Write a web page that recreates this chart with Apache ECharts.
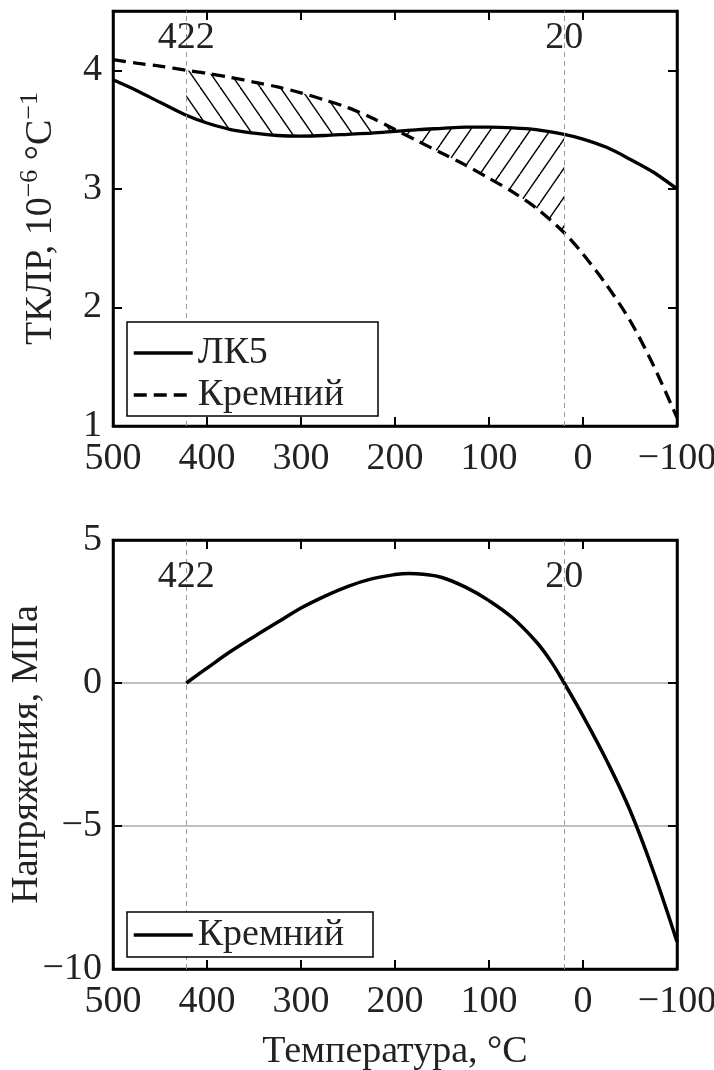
<!DOCTYPE html>
<html><head><meta charset="utf-8">
<script src="https://cdn.jsdelivr.net/npm/echarts@6/dist/echarts.min.js"></script>
<style>html,body{margin:0;padding:0;background:#fff}#c{width:714px;height:1070px}</style>
</head><body><div id="c"></div>
<script>
// ---- data ----
const temps = [500,475,450,422,400,375,350,325,300,275,250,225,200,175,150,125,100,75,50,20,0,-25,-50,-75,-100];
const lk5   = [3.92,3.83,3.73,3.62,3.555,3.50,3.47,3.45,3.445,3.45,3.46,3.47,3.485,3.50,3.51,3.52,3.52,3.515,3.50,3.46,3.42,3.35,3.25,3.14,3.00];
const si    = [4.09,4.06,4.035,4.00,3.975,3.94,3.90,3.86,3.81,3.75,3.685,3.60,3.50,3.40,3.30,3.20,3.09,2.975,2.84,2.63,2.45,2.19,1.89,1.51,1.07];
const stressTemps = [422,400,375,350,325,300,275,250,225,200,185,170,150,125,100,75,50,35,20,0,-25,-50,-75,-100];
const stress      = [0,0.52,1.10,1.62,2.12,2.62,3.03,3.38,3.64,3.79,3.83,3.80,3.69,3.35,2.88,2.28,1.45,0.80,0,-1.15,-2.7,-4.45,-6.6,-9.05];
const markerTemps = [422, 20];
const topLegend = ['ЛК5', 'Кремний'];
const bottomLegend = ['Кремний'];
const xRange = [-100, 500];
const topYRange = [1, 4.5];
const bottomYRange = [-10, 5];

const FONT = '"Liberation Serif", "DejaVu Serif", serif';
const FS = 38;
const TXT = '#222';
const minus = v => (v < 0 ? '\u2212' + Math.abs(v) : String(v));

function hatch(dir) {
  const w = 20, h = 29;
  const c = document.createElement('canvas');
  c.width = w; c.height = h;
  const g = c.getContext('2d');
  g.strokeStyle = '#000'; g.lineWidth = 1.4;
  for (let k = -1; k <= 1; k++) {
    g.beginPath();
    if (dir === 'back') { g.moveTo(k * w, 0); g.lineTo(k * w + w, h); }
    else { g.moveTo(k * w, h); g.lineTo(k * w + w, 0); }
    g.stroke();
  }
  return { image: c, repeat: 'repeat' };
}

// crossing of the two curves between the marker temperatures
function crossing() {
  for (let i = 0; i < temps.length - 1; i++) {
    const d0 = lk5[i] - si[i], d1 = lk5[i + 1] - si[i + 1];
    if (temps[i] <= markerTemps[0] && temps[i + 1] >= markerTemps[1] && d0 * d1 < 0) {
      const f = d0 / (d0 - d1);
      return { t: temps[i] + f * (temps[i + 1] - temps[i]), v: lk5[i] + f * (lk5[i + 1] - lk5[i]) };
    }
  }
  return null;
}
const cross = crossing();

function regionPoints(api, tHi, tLo) {
  const a = [], b = [];
  const iHi = temps.indexOf(tHi), iLo = temps.indexOf(tLo);
  if (iHi < 0) a.push(api.coord([cross.t, cross.v])); else a.push(api.coord([tHi, lk5[iHi]]));
  temps.forEach((t, i) => { if (t < tHi && t > tLo) { a.push(api.coord([t, lk5[i]])); b.push(api.coord([t, si[i]])); } });
  if (iLo < 0) a.push(api.coord([cross.t, cross.v]));
  else { a.push(api.coord([tLo, lk5[iLo]])); a.push(api.coord([tLo, si[iLo]])); }
  b.reverse();
  const pts = a.concat(b);
  if (iHi >= 0) pts.push(api.coord([tHi, si[iHi]]));
  return pts;
}

function hatchSeries(tHi, tLo, dir) {
  const pat = hatch(dir);
  return {
    type: 'custom', xAxisIndex: 0, yAxisIndex: 0, silent: true, z: 1,
    data: [[tHi, tLo]],
    renderItem: (params, api) => ({
      type: 'polygon',
      shape: { points: regionPoints(api, tHi, tLo) },
      style: { fill: pat, stroke: null }
    })
  };
}

const lab = { fontSize: FS, fontFamily: FONT, color: TXT };
const frame = { show: true, onZero: false, lineStyle: { color: '#000', width: 2.5 } };
const ticks = { show: true, inside: true, length: 9, lineStyle: { color: '#000', width: 2 } };
function xAx(grid, pos, labels) {
  return {
    type: 'value', gridIndex: grid, position: pos, min: xRange[0], max: xRange[1], interval: 100, inverse: true,
    axisLine: frame, axisTick: ticks, nameMoveOverlap: false,
    axisLabel: Object.assign({ show: labels, margin: 14, formatter: minus }, lab),
    splitLine: { show: false }
  };
}
function yAx(grid, pos, range, interval, labels, extra) {
  return Object.assign({
    type: 'value', gridIndex: grid, position: pos, min: range[0], max: range[1], interval: interval,
    axisLine: frame, axisTick: ticks, nameMoveOverlap: false,
    axisLabel: Object.assign({ show: labels, margin: 11, formatter: v => (Number.isInteger(v) ? minus(v) : '') }, lab),
    splitLine: { show: false }
  }, extra || {});
}

const markLine = {
  silent: true, symbol: ['none', 'none'], label: { show: false },
  lineStyle: { color: '#999', type: [5, 4], width: 1 },
  data: markerTemps.map(t => ({ xAxis: t }))
};
const legendBase = {
  orient: 'vertical', left: 127, itemGap: 4, itemWidth: 59, itemHeight: 14,
  borderColor: '#000', borderWidth: 1.5, backgroundColor: '#fff',
  itemStyle: { opacity: 0 },
  lineStyle: { width: 3.5, color: '#000' },
  textStyle: { fontSize: FS, fontFamily: FONT, color: TXT, lineHeight: 36 },
  selectedMode: false, z: 10
};

const chart = echarts.init(document.getElementById('c'), null, { renderer: 'canvas' });
chart.setOption({
  animation: false,
  backgroundColor: '#fff',
  grid: [
    { left: 113, right: 37, top: 11, height: 415, show: true, borderColor: '#000', borderWidth: 2.5, containLabel: false, outerBoundsMode: 'none' },
    { left: 113, right: 37, top: 540, height: 429, show: true, borderColor: '#000', borderWidth: 2.5, containLabel: false, outerBoundsMode: 'none' }
  ],
  xAxis: [
    xAx(0, 'bottom', true), xAx(0, 'top', false),
    Object.assign(xAx(1, 'bottom', true), {
      name: 'Температура, °C', nameLocation: 'middle', nameGap: 64,
      nameTextStyle: { fontSize: FS, fontFamily: FONT, color: TXT, lineHeight: 38 }
    }),
    xAx(1, 'top', false)
  ],
  yAxis: [
    yAx(0, 'left', topYRange, 1, true, {
      name: 'ТКЛР, 10{s|\u22126} °C{s|\u22121}', nameLocation: 'middle', nameGap: 48, nameRotate: 90,
      nameTextStyle: { fontSize: FS, fontFamily: FONT, color: TXT, lineHeight: 48,
        rich: { s: { fontSize: 26, fontFamily: FONT, color: TXT, lineHeight: 26, verticalAlign: 'top' } } }
    }),
    yAx(0, 'right', topYRange, 1, false),
    yAx(1, 'left', bottomYRange, 5, true, {
      name: 'Напряжения, МПа', nameLocation: 'middle', nameGap: 67, nameRotate: 90,
      nameTextStyle: { fontSize: FS, fontFamily: FONT, color: TXT, lineHeight: 38 },
      splitLine: { show: true, showMinLine: false, showMaxLine: false, lineStyle: { color: '#aaa', width: 1.5 } }
    }),
    yAx(1, 'right', bottomYRange, 5, false)
  ],
  legend: [
    Object.assign({}, legendBase, { top: 322, padding: [12, 34, 2, 5], data: topLegend }),
    Object.assign({}, legendBase, { top: 912, padding: [4, 29, 3, 5], data: ['Напряжения Si'], formatter: () => bottomLegend[0] })
  ],
  series: [
    hatchSeries(markerTemps[0], cross.t, 'back'),
    hatchSeries(cross.t, markerTemps[1], 'fwd'),
    {
      name: topLegend[0], type: 'line', xAxisIndex: 0, yAxisIndex: 0, symbol: 'none', z: 3, smooth: 0.3,
      data: temps.map((t, i) => [t, lk5[i]]),
      lineStyle: { color: '#000', width: 3.3 }, itemStyle: { color: '#000' },
      markLine: markLine
    },
    {
      name: topLegend[1], type: 'line', xAxisIndex: 0, yAxisIndex: 0, symbol: 'none', z: 3, smooth: 0.3,
      data: temps.map((t, i) => [t, si[i]]),
      lineStyle: { color: '#000', width: 3.3, type: [13, 7] }, itemStyle: { color: '#000' }
    },
    {
      name: 'Напряжения Si', type: 'line', xAxisIndex: 2, yAxisIndex: 2, symbol: 'none', z: 3, smooth: 0.4,
      data: stressTemps.map((t, i) => [t, stress[i]]),
      lineStyle: { color: '#000', width: 3.5 }, itemStyle: { color: '#000' },
      markLine: markLine
    },
    {
      type: 'scatter', xAxisIndex: 0, yAxisIndex: 0, symbolSize: 0, silent: true, z: 5,
      itemStyle: { opacity: 1 },
      data: markerTemps.map(t => [t, 4.27]),
      label: { show: true, position: 'inside', formatter: p => String(p.value[0]), fontSize: FS, fontFamily: FONT, color: TXT, opacity: 1 }
    },
    {
      type: 'scatter', xAxisIndex: 2, yAxisIndex: 2, symbolSize: 0, silent: true, z: 5,
      itemStyle: { opacity: 1 },
      data: markerTemps.map(t => [t, 3.71]),
      label: { show: true, position: 'inside', formatter: p => String(p.value[0]), fontSize: FS, fontFamily: FONT, color: TXT, opacity: 1 }
    }
  ]
});
</script></body></html>
